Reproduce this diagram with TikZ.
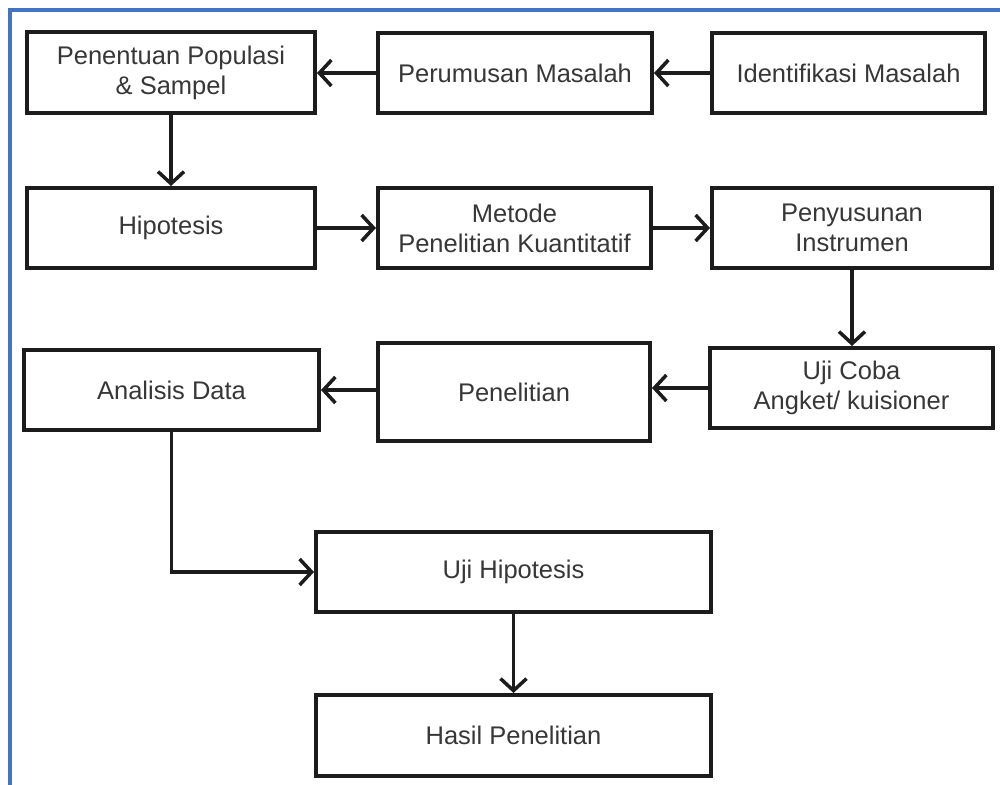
\documentclass[tikz,border=0pt]{standalone}
\usepackage{fontspec}
\setmainfont{Liberation Sans}
\usetikzlibrary{arrows.meta}
\definecolor{frameblue}{RGB}{68,114,196}
\definecolor{txt}{RGB}{55,55,55}
\definecolor{ink}{RGB}{28,28,28}
\tikzset{
  box/.style={draw=ink, line width=4pt, fill=white, inner sep=0pt, align=center, text=txt,
    font=\fontsize{25.5}{30}\selectfont},
  arr/.style={draw=ink, line width=3.5pt, -{Straight Barb[length=12pt,width=26pt,line width=3.5pt]}},
}
\begin{document}
\begin{tikzpicture}[x=1pt,y=-1pt]
\useasboundingbox (0,0) rectangle (1000,784);
\fill[white] (0,0) rectangle (1000,784);
\draw[frameblue, line width=4pt] (10,790) -- (10,10) -- (1005,10);
% row 1
\node[box, minimum width=288pt, minimum height=81pt] (pop) at (171,72.5) {Penentuan Populasi\\\& Sampel};
\node[box, minimum width=274pt, minimum height=80pt] (rum) at (515,73) {Perumusan Masalah};
\node[box, minimum width=273pt, minimum height=80pt] (ide) at (848.5,73) {Identifikasi Masalah};
% row 2
\node[box, minimum width=288pt, minimum height=80pt] (hip) at (171,228) {Hipotesis};
\node[box, minimum width=273pt, minimum height=80pt] (met) at (514.5,228) {Metode\\Penelitian Kuantitatif};
\node[box, minimum width=280pt, minimum height=80pt] (ins) at (852,228) {Penyusunan\\Instrumen};
% row 3
\node[box, minimum width=295pt, minimum height=80pt] (ana) at (171.5,390) {Analisis Data};
\node[box, minimum width=272pt, minimum height=98pt] (pen) at (514,392) {Penelitian};
\node[box, minimum width=283pt, minimum height=80pt] (uji) at (851.5,388) {Uji Coba\\Angket/ kuisioner};
% lower
\node[box, minimum width=395pt, minimum height=80pt] (ujh) at (513.5,572) {Uji Hipotesis};
\node[box, minimum width=395pt, minimum height=81pt] (has) at (513.5,735.5) {Hasil Penelitian};
% connectors
\draw[arr] (rum.west) -- (pop.east |- rum.west);
\draw[arr] (ide.west) -- (rum.east);
\draw[arr] (pop.south) -- (hip.north);
\draw[arr] (hip.east) -- (met.west);
\draw[arr] (met.east) -- (ins.west);
\draw[arr] (ins.south) -- (ins.south |- uji.north);
\draw[arr] (uji.west) -- (pen.east |- uji.west);
\draw[arr] (pen.west |- ana.east) -- (ana.east);
\draw[arr] (ana.south) |- (ujh.west);
\draw[arr] (ujh.south) -- (has.north);
\end{tikzpicture}
\end{document}
